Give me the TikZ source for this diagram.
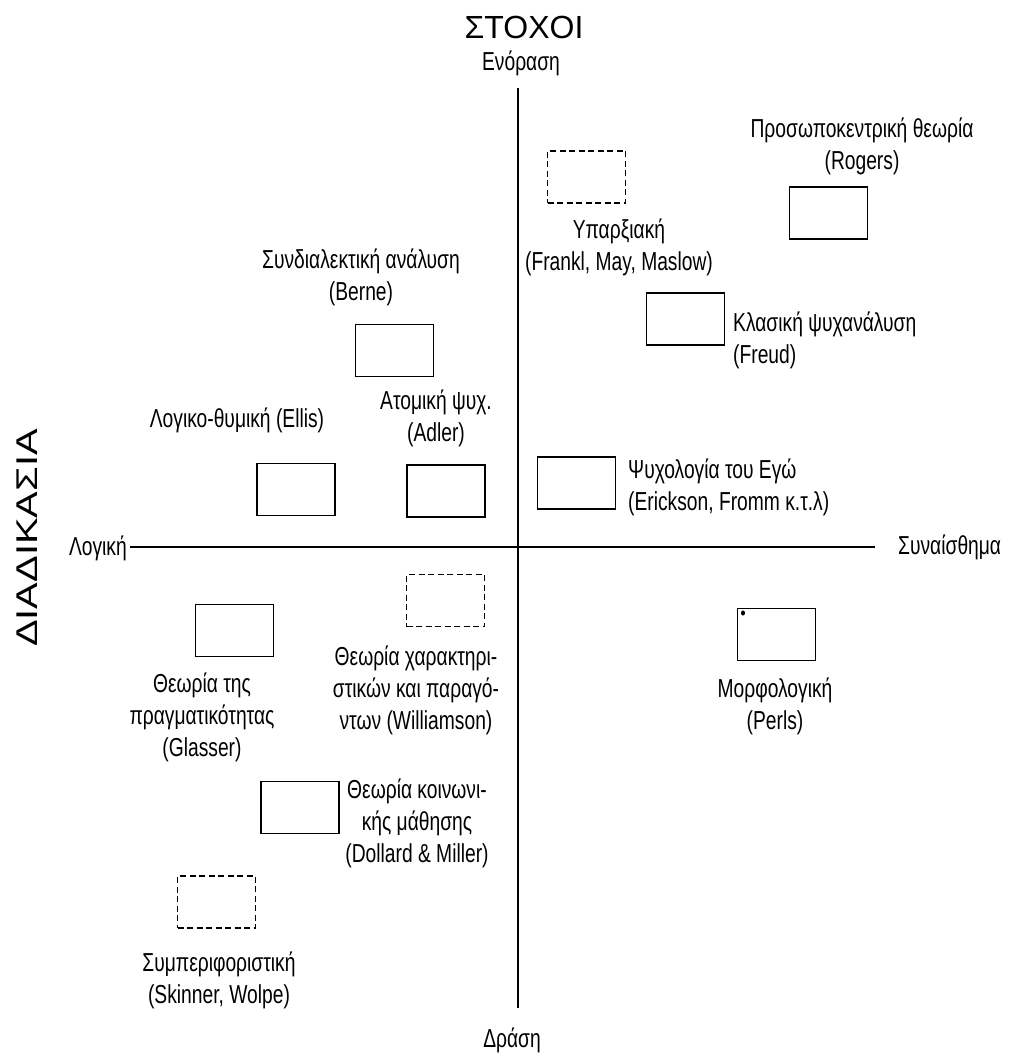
\documentclass[tikz,border=0pt]{standalone}
\usepackage{fontspec}
\usepackage{graphicx}
\setmainfont{Liberation Sans}
\newfontfamily\labfont[FakeStretch=0.74]{Liberation Sans}
\newfontfamily\headfont{Liberation Sans}
\begin{document}
\begin{tikzpicture}[x=1pt,y=-1pt,
  box/.style={draw, line width=1.8pt, minimum width=78pt, minimum height=52pt, inner sep=0pt},
  dbox/.style={box, line width=1.6pt, dash pattern=on 6pt off 3.5pt},
  lab/.style={font=\labfont\fontsize{26}{32}\selectfont, align=center, inner sep=0pt},
  axis/.style={line width=1.5pt}]
\useasboundingbox (0,0) rectangle (1013,1059);
\fill[white] (0,0) rectangle (1013,1059);

% titles
\node[font=\headfont\fontsize{32}{36}\selectfont, inner sep=0pt] (stoxoi) at (524,27) {ΣΤΟΧΟΙ};
\node[rotate=90, font=\headfont\fontsize{30}{34}\selectfont, inner sep=0pt] (diad) at (27,538) {\scalebox{1.33}[1]{ΔΙΑΔΙΚΑΣΙΑ}};

% axis labels
\node[lab] (enor) at (521,63) {Ενόραση};
\node[lab] (drasi) at (512,1040) {Δράση};
\node[lab, anchor=east] (logiki) at (127,548) {Λογική};
\node[lab, anchor=west] (synais) at (898,547) {Συναίσθημα};

% axes
\coordinate (vtop) at (518,88);
\coordinate (vbot) at (518,1008);
\coordinate (hleft) at (130,547);
\coordinate (hright) at (875,547);
\draw[axis] (vtop) -- (vbot);
\draw[axis] (hleft) -- (hright);

% boxes
\node[dbox] (exist) at (586.5,177) {};
\node[box]  (rogers) at (828.5,213) {};
\node[box]  (freud) at (685.5,319) {};
\node[box]  (berne) at (394.5,350.5) {};
\node[box]  (ellis) at (296,489.5) {};
\node[box]  (adler) at (446,491) {};
\node[box]  (ego) at (576.5,483) {};
\node[dbox] (will) at (445.5,600.5) {};
\node[box]  (glas) at (234.5,630.5) {};
\node[box]  (perls) at (776.5,634.5) {};
\node[box]  (doll) at (300,807.5) {};
\node[dbox] (skin) at (216.5,902) {};
\fill (743,613) ellipse (2pt and 2.6pt);

% labels
\node[lab] (rogersL) at (862,146) {Προσωποκεντρική θεωρία\\(Rogers)};
\node[lab] (existL) at (619,247) {Υπαρξιακή\\(Frankl, May, Maslow)};
\node[lab, anchor=west, align=left] (freudL) at (733,340) {Κλασική ψυχανάλυση\\(Freud)};
\node[lab] (berneL) at (361,277) {Συνδιαλεκτική ανάλυση\\(Berne)};
\node[lab] (ellisL) at (237,420) {Λογικο-θυμική (Ellis)};
\node[lab] (adlerL) at (436,418) {Ατομική ψυχ.\\(Adler)};
\node[lab, anchor=west, align=left] (egoL) at (628,487) {Ψυχολογία του Εγώ\\(Erickson, Fromm κ.τ.λ)};
\node[lab] (willL) at (416,690) {Θεωρία χαρακτηρι-\\στικών και παραγό-\\ντων (Williamson)};
\node[lab] (glasL) at (202,717) {Θεωρία της\\πραγματικότητας\\(Glasser)};
\node[lab] (perlsL) at (775,706) {Μορφολογική\\(Perls)};
\node[lab] (dollL) at (417,823) {Θεωρία κοινωνι-\\κής μάθησης\\(Dollard \& Miller)};
\node[lab] (skinL) at (219,980) {Συμπεριφοριστική\\(Skinner, Wolpe)};
\end{tikzpicture}
\end{document}
